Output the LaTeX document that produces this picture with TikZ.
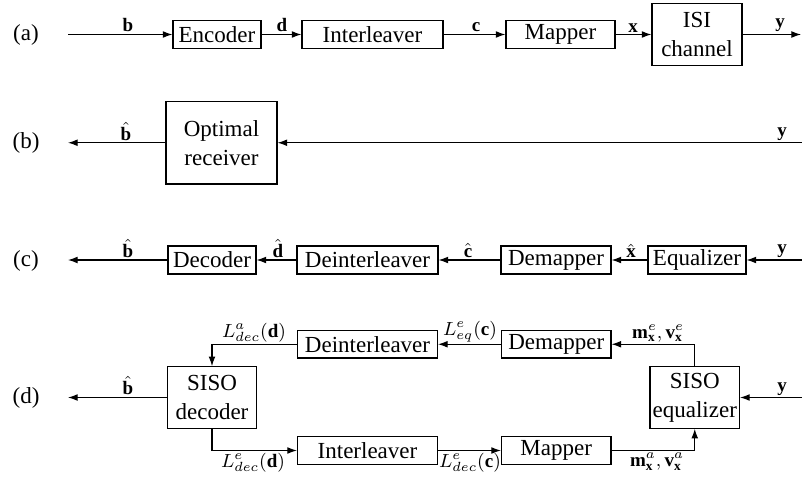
\RequirePackage{fix-cm}
\documentclass[tikz,border=0pt]{standalone}
\usepackage{fontspec}
\setmainfont{Liberation Serif}
\usetikzlibrary{arrows.meta}
\begin{document}
\begin{tikzpicture}[x=0.5pt,y=-0.5pt,
  blk/.style={draw,line width=0.55pt,inner sep=0pt,align=center,font=\fontsize{11.5}{14.5}\selectfont},
  arr/.style={line width=0.55pt,-{Latex[length=4.8pt,width=3.4pt]}},
  lbl/.style={inner sep=1pt,font=\fontsize{9.5}{11}\selectfont},
  rowlbl/.style={font=\fontsize{11.5}{14}\selectfont}]
\useasboundingbox (0,0) rectangle (802,481);

% ---------- (a)
\node[rowlbl] (ra) at (26,35) {(a)};
\coordinate (a0) at (68,34.5);
\coordinate (a1) at (801,34.5);
\node[blk,minimum width=44pt,minimum height=14pt] (enc) at (217,34.5) {Encoder};
\node[blk,minimum width=70.5pt,minimum height=14pt] (int) at (372.5,34.5) {Interleaver};
\node[blk,minimum width=54.5pt,minimum height=14pt] (map) at (560.5,34.5) {Mapper};
\node[blk,minimum width=45pt,minimum height=30.75pt] (isi) at (697,34.5) {ISI\\channel};
\draw[arr] (a0) -- (enc);
\draw[arr] (enc) -- (int);
\draw[arr] (int) -- (map);
\draw[arr] (map) -- (isi);
\draw[arr] (isi) -- (a1);
\node[lbl,anchor=south] (la1) at (128,34.5) {$\mathbf{b}$};
\node[lbl,anchor=south] (la2) at (282,34.5) {$\mathbf{d}$};
\node[lbl,anchor=south] (la3) at (476,34.5) {$\mathbf{c}$};
\node[lbl,anchor=south] (la4) at (633,34.5) {$\mathbf{x}$};
\node[lbl,anchor=south] (la5) at (780,34.5) {$\mathbf{y}$};

% ---------- (b)
\node[rowlbl] (rb) at (26,143) {(b)};
\coordinate (b0) at (68,142.75);
\coordinate (b1) at (802,142.75);
\node[blk,minimum width=55.5pt,minimum height=41.25pt] (opt) at (221.5,142.75) {Optimal\\receiver};
\draw[arr] (b1) -- (opt);
\draw[arr] (opt) -- (b0);
\node[lbl,anchor=south] (lb1) at (126,142.75) {$\hat{\mathbf{b}}$};
\node[lbl,anchor=south] (lb2) at (782,142.75) {$\mathbf{y}$};

% ---------- (c)
\node[rowlbl] (rc) at (26,260.5) {(c)};
\coordinate (c0) at (68,260);
\coordinate (c1) at (802,260);
\node[blk,minimum width=44pt,minimum height=14pt] (dec) at (212,260) {Decoder};
\node[blk,minimum width=70.5pt,minimum height=14pt] (dint) at (367.5,260) {Deinterleaver};
\node[blk,minimum width=55pt,minimum height=14pt] (demap) at (556,260) {Demapper};
\node[blk,minimum width=49pt,minimum height=14pt] (eq) at (697,260) {Equalizer};
\draw[arr] (c1) -- (eq);
\draw[arr] (eq) -- (demap);
\draw[arr] (demap) -- (dint);
\draw[arr] (dint) -- (dec);
\draw[arr] (dec) -- (c0);
\node[lbl,anchor=south] (lc1) at (128,260) {$\hat{\mathbf{b}}$};
\node[lbl,anchor=south] (lc2) at (278,260) {$\hat{\mathbf{d}}$};
\node[lbl,anchor=south] (lc3) at (468,260) {$\hat{\mathbf{c}}$};
\node[lbl,anchor=south] (lc4) at (631,260) {$\hat{\mathbf{x}}$};
\node[lbl,anchor=south] (lc5) at (782,260) {$\mathbf{y}$};

% ---------- (d)
\node[rowlbl] (rd) at (26,398) {(d)};
\coordinate (d0) at (68,397.5);
\coordinate (d1) at (802,397.5);
\node[blk,minimum width=44.5pt,minimum height=30.8pt] (sdec) at (212,397.5) {SISO\\decoder};
\node[blk,minimum width=44.75pt,minimum height=30.8pt] (seq) at (694.75,397.5) {SISO\\equalizer};
\node[blk,minimum width=70pt,minimum height=13.75pt] (ddint) at (367.5,344.25) {Deinterleaver};
\node[blk,minimum width=54.75pt,minimum height=13.75pt] (ddem) at (556.25,344.25) {Demapper};
\node[blk,minimum width=70pt,minimum height=14pt] (dint2) at (367.5,450.5) {Interleaver};
\node[blk,minimum width=54.75pt,minimum height=14pt] (dmap) at (556.25,450.5) {Mapper};
\draw[arr] (d1) -- (seq);
\draw[arr] (sdec) -- (d0);
\draw[arr] (seq.north) |- (ddem.east);
\draw[arr] (ddem) -- (ddint);
\draw[arr] (ddint.west) -| (sdec.north);
\draw[arr] (sdec.south) |- (dint2.west);
\draw[arr] (dint2) -- (dmap);
\draw[arr] (dmap.east) -| (seq.south);
\node[lbl,anchor=south] (ld1) at (128,397.5) {$\hat{\mathbf{b}}$};
\node[lbl,anchor=south] (ld2) at (782,397.5) {$\mathbf{y}$};
\node[lbl,anchor=south] (ld3) at (254,344.25) {$L^a_{dec}(\mathbf{d})$};
\node[lbl,anchor=south] (ld4) at (470,344.25) {$L^e_{eq}(\mathbf{c})$};
\node[lbl,anchor=south] (ld5) at (658,344.25) {$\mathbf{m}^e_{\mathbf{x}},\mathbf{v}^e_{\mathbf{x}}$};
\node[lbl,anchor=north] (ld6) at (253,450.5) {$L^e_{dec}(\mathbf{d})$};
\node[lbl,anchor=north] (ld7) at (470,450.5) {$L^e_{dec}(\mathbf{c})$};
\node[lbl,anchor=north] (ld8) at (657,450.5) {$\mathbf{m}^a_{\mathbf{x}},\mathbf{v}^a_{\mathbf{x}}$};
\end{tikzpicture}
\end{document}
